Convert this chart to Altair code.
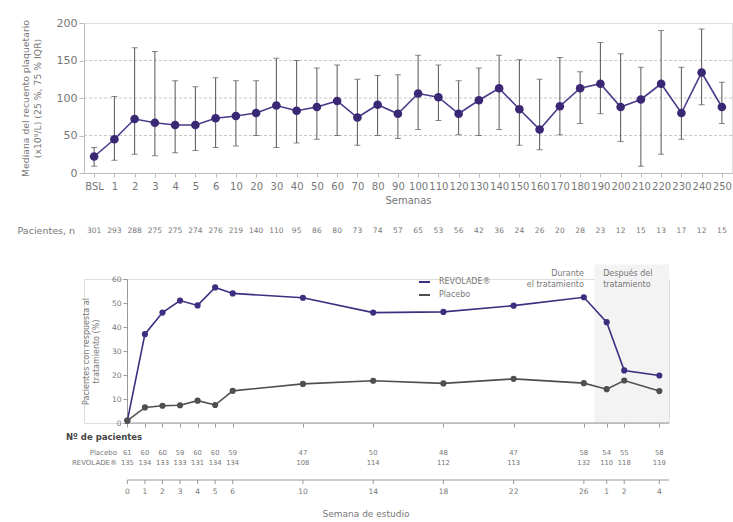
import altair as alt
import pandas as pd

# ---------------- Top panel data ----------------
semanas = ["BSL", "1", "2", "3", "4", "5", "6", "10", "20", "30", "40", "50", "60", "70",
           "80", "90", "100", "110", "120", "130", "140", "150", "160", "170", "180", "190",
           "200", "210", "220", "230", "240", "250"]
mediana = [22, 45, 72, 67, 64, 64, 73, 76, 80, 90, 83, 88, 96, 74,
           91, 79, 106, 101, 79, 97, 113, 85, 58, 89, 113, 119, 88, 98, 119, 80, 134, 88]
q75 = [34, 102, 167, 162, 123, 115, 127, 123, 123, 153, 150, 140, 144, 125,
       130, 131, 157, 144, 123, 140, 157, 151, 125, 154, 135, 174, 159, 141, 190, 141, 192, 121]
q25 = [9, 17, 25, 23, 27, 30, 34, 36, 50, 34, 40, 45, 50, 37,
       50, 46, 58, 70, 51, 50, 58, 37, 31, 51, 66, 79, 42, 9, 25, 45, 91, 66]
pacientes_n = [301, 293, 288, 275, 275, 274, 276, 219, 140, 110, 95, 86, 80, 73,
               74, 57, 65, 53, 56, 42, 36, 24, 26, 20, 28, 23, 12, 15, 13, 17, 12, 15]
grid_vals = [50, 100, 150]

# ---------------- Bottom panel data ----------------
semana_lab = ["0", "1", "2", "3", "4", "5", "6", "10", "14", "18", "22", "26", "1", "2", "4"]
semana_num = [0, 1, 2, 3, 4, 5, 6, 10, 14, 18, 22, 26, 1, 2, 4]
fase = ["durante"] * 12 + ["despues"] * 3
revolade = [1, 37, 46, 51, 49, 56.5, 54, 52.2, 46, 46.3, 48.9, 52.4, 42, 21.9, 19.8]
placebo = [1, 6.5, 7.2, 7.4, 9.3, 7.5, 13.4, 16.3, 17.6, 16.5, 18.4, 16.6, 14.1, 17.7, 13.3]
n_placebo = [61, 60, 60, 59, 60, 60, 59, 47, 50, 48, 47, 58, 54, 55, 58]
n_revolade = [135, 134, 133, 133, 131, 134, 134, 108, 114, 112, 113, 132, 110, 118, 119]
series = ["REVOLADE®", "Placebo"]
series_colors = ["#3f2d80", "#4f4f4f"]

FONT = "DejaVu Sans"
GRAY = "#777777"

# ================= TOP CHART =================
top_df = pd.DataFrame({"semana": semanas, "mediana": mediana, "q25": q25, "q75": q75,
                       "n": pacientes_n})
xscale = alt.Scale(type="point", padding=0.5)
yscale = alt.Scale(domain=[0, 200], nice=False)
x_axis_top = alt.Axis(title="Semanas", labelAngle=0, labelFontSize=10, labelColor=GRAY,
                      titleFontSize=10, titleColor=GRAY, titleFontWeight="normal",
                      tickColor="#bbbbbb", tickSize=4, domainColor="#bbbbbb",
                      labelPadding=4, titlePadding=4)
y_axis_top = alt.Axis(values=[0, 50, 100, 150, 200], grid=False,
                      title=["Mediana del recuento plaquetario", "(x10⁹/L) (25 %, 75 % IQR)"],
                      titleFontSize=9.3, titleColor=GRAY, titleFontWeight="normal",
                      labelFontSize=11, labelColor=GRAY, tickColor="#bbbbbb",
                      domainColor="#bbbbbb", tickSize=5, titlePadding=14)
X = alt.X("semana:N", sort=semanas, scale=xscale, axis=x_axis_top)


def Yt(field):
    return alt.Y(field, scale=yscale, axis=y_axis_top)


grid = alt.Chart(pd.DataFrame({"v": grid_vals})).mark_rule(
    color="#c8c8c8", strokeDash=[3, 2], strokeWidth=1
).encode(y=Yt("v:Q"))

base = alt.Chart(top_df)
err = base.mark_rule(color="#555555", strokeWidth=1).encode(x=X, y=Yt("q25:Q"), y2="q75:Q")
cap_hi = base.mark_tick(color="#555555", orient="horizontal", size=6, thickness=1).encode(
    x=X, y=Yt("q75:Q"))
cap_lo = base.mark_tick(color="#555555", orient="horizontal", size=6, thickness=1).encode(
    x=X, y=Yt("q25:Q"))
line = base.mark_line(color="#4b3a8a", strokeWidth=1.6).encode(x=X, y=Yt("mediana:Q"))
pts = base.mark_circle(color="#3a2875", size=75, opacity=1).encode(x=X, y=Yt("mediana:Q"))
counts = base.mark_text(fontSize=7.5, color=GRAY, baseline="middle").encode(
    x=X, y=alt.value(208), text="n:N")
counts_lab = alt.Chart(pd.DataFrame({"t": ["Pacientes, n"]})).mark_text(
    fontSize=9.5, color=GRAY, align="right", baseline="middle"
).encode(x=alt.value(-9), y=alt.value(208), text="t:N")

top = alt.layer(grid, err, cap_hi, cap_lo, line, pts, counts, counts_lab).properties(
    width=648, height=150)

# ================= BOTTOM CHART =================
xpos = [w if f == "durante" else 26 + w + 0.3 for w, f in zip(semana_num, fase)]
long_rows = []
for i in range(len(semana_num)):
    long_rows.append({"x": xpos[i], "serie": series[0], "pct": revolade[i]})
    long_rows.append({"x": xpos[i], "serie": series[1], "pct": placebo[i]})
long_df = pd.DataFrame(long_rows)
wk_df = pd.DataFrame({"x": xpos, "lab": semana_lab, "np": n_placebo, "nr": n_revolade})

x_end = 30.85
x_shade = 26.6
bxscale = alt.Scale(domain=[-2.47, x_end], nice=False, zero=False)
byscale = alt.Scale(domain=[0, 60], nice=False)
bx_axis = alt.Axis(values=xpos, labels=False, title=None, domain=False, grid=False,
                   tickColor="#999999", tickSize=4)
by_axis = alt.Axis(values=[0, 10, 20, 30, 40, 50, 60], offset=-43, grid=False,
                   title=["Pacientes con respuesta al", "tratamiento (%)"],
                   titleFontSize=8, titleColor=GRAY, titleFontWeight="normal",
                   labelFontSize=7.5, labelColor=GRAY, tickColor="#999999",
                   domainColor="#999999", tickSize=4, titlePadding=11)


def BX(field):
    return alt.X(field, scale=bxscale, axis=bx_axis)


def BY(field):
    return alt.Y(field, scale=byscale, axis=by_axis)


shade = alt.Chart(pd.DataFrame({"x": [x_shade], "x2": [x_end], "y": [0], "y2": [66]})).mark_rect(
    color="#f3f3f3"
).encode(x=BX("x:Q"), x2="x2:Q", y=BY("y:Q"), y2="y2:Q")

axis_line = alt.Chart(pd.DataFrame({"x": [0], "x2": [x_end], "y": [0]})).mark_rule(
    color="#999999", strokeWidth=1.2
).encode(x=BX("x:Q"), x2="x2:Q", y=BY("y:Q"))

lines = alt.Chart(long_df).mark_line(
    strokeWidth=1.6, point=alt.OverlayMarkDef(filled=True, size=38, opacity=1)
).encode(
    x=BX("x:Q"), y=BY("pct:Q"),
    color=alt.Color("serie:N", sort=series,
                    scale=alt.Scale(domain=series, range=series_colors), legend=None),
    order="x:Q")

# manual legend
leg_df = pd.DataFrame({"serie": series})
leg_sym1 = alt.Chart(leg_df.iloc[[0]]).mark_rule(color=series_colors[0], strokeWidth=2).encode(
    x=alt.value(335), x2=alt.value(346), y=alt.value(3))
leg_sym2 = alt.Chart(leg_df.iloc[[1]]).mark_rule(color=series_colors[1], strokeWidth=2).encode(
    x=alt.value(335), x2=alt.value(346), y=alt.value(16))
leg_t1 = alt.Chart(leg_df.iloc[[0]]).mark_text(
    align="left", baseline="middle", fontSize=8, color=GRAY
).encode(x=alt.value(355), y=alt.value(3), text="serie:N")
leg_t2 = alt.Chart(leg_df.iloc[[1]]).mark_text(
    align="left", baseline="middle", fontSize=8, color=GRAY
).encode(x=alt.value(355), y=alt.value(16), text="serie:N")

ann_df = pd.DataFrame({"x": [x_shade - 0.6, x_shade + 0.5],
                       "t": ["Durante\nel tratamiento", "Después del\ntratamiento"]})
ann_r = alt.Chart(ann_df.iloc[[0]]).mark_text(
    align="right", baseline="top", lineBreak="\n", fontSize=8, color=GRAY, lineHeight=11
).encode(x=BX("x:Q"), y=alt.value(-9), text="t:N")
ann_l = alt.Chart(ann_df.iloc[[1]]).mark_text(
    align="left", baseline="top", lineBreak="\n", fontSize=8, color=GRAY, lineHeight=11
).encode(x=BX("x:Q"), y=alt.value(-9), text="t:N")

wk = alt.Chart(wk_df)
np_txt = wk.mark_text(fontSize=6.8, color=GRAY).encode(
    x=BX("x:Q"), y=alt.value(174), text="np:N")
nr_txt = wk.mark_text(fontSize=6.8, color=GRAY).encode(
    x=BX("x:Q"), y=alt.value(184), text="nr:N")
row_labs = alt.Chart(pd.DataFrame({"t": ["Placebo", "REVOLADE®"], "yy": [174, 184]})).mark_text(
    fontSize=7, color=GRAY, align="right"
).encode(x=alt.value(33), y=alt.Y("yy:Q", scale=None), text="t:N")
head = alt.Chart(pd.DataFrame({"t": ["Nº de pacientes"]})).mark_text(
    fontSize=8.5, color="#444444", align="left", fontWeight="bold"
).encode(x=alt.value(-18), y=alt.value(158), text="t:N")

ax2_line = alt.Chart(pd.DataFrame({"x": [0], "x2": [x_end]})).mark_rule(
    color="#999999", strokeWidth=1.2
).encode(x=BX("x:Q"), x2="x2:Q", y=alt.value(201))
ax2_ticks = wk.mark_rule(color="#999999").encode(
    x=BX("x:Q"), y=alt.value(201), y2=alt.value(205))
ax2_labs = wk.mark_text(fontSize=7.5, color=GRAY).encode(
    x=BX("x:Q"), y=alt.value(213), text="lab:N")
ax2_title = alt.Chart(pd.DataFrame({"t": ["Semana de estudio"]})).mark_text(
    fontSize=9, color=GRAY
).encode(x=alt.value(282), y=alt.value(235), text="t:N")

bottom = alt.layer(shade, axis_line, lines, leg_sym1, leg_sym2, leg_t1, leg_t2, ann_r, ann_l,
                   np_txt, nr_txt, row_labs, head,
                   ax2_line, ax2_ticks, ax2_labs, ax2_title).properties(width=585, height=144)

chart = alt.vconcat(top, bottom, spacing=28).configure_view(stroke=None).configure(
    font=FONT, padding={"left": 17, "top": 16, "right": 0, "bottom": 0})

chart.save("out.html", embed_options={"renderer": "svg", "actions": False})
